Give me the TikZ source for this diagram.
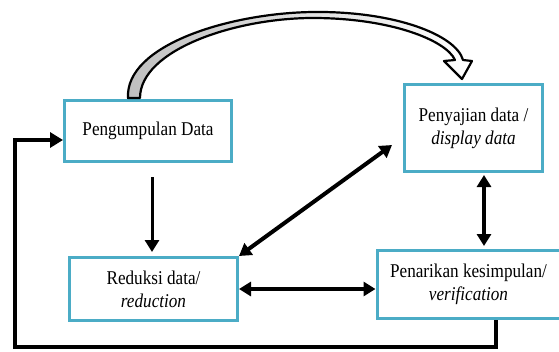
\documentclass[tikz,border=0pt]{standalone}
\usepackage{fontspec}
\setmainfont{Liberation Serif}
\newfontfamily\figfont[FakeStretch=0.88]{Liberation Serif}
\usepackage{xcolor}
\usetikzlibrary{arrows.meta,positioning,calc}
\definecolor{boxline}{RGB}{75,172,198}

\begin{document}
\begin{tikzpicture}[
  x=1pt,y=-1pt,
  font=\figfont\fontsize{19.5}{23}\selectfont,
  stage/.style ={draw=boxline,line width=3pt,fill=white,align=center,
                 inner sep=2pt},
  link/.style  ={line width=3.5pt,-{Triangle[length=12pt,width=14pt]}},
  both/.style  ={line width=4pt,{Triangle[length=12pt,width=14pt]}-{Triangle[length=12pt,width=14pt]}}]

\useasboundingbox (0,0) rectangle (559,351);

% ---------- stages ----------
\node[stage,minimum width=167pt,minimum height=61pt] (gather) at (148,131) {Pengumpulan Data};
\node[stage,minimum width=138pt,minimum height=87pt] (display) at (473.5,128)
  {Penyajian data /\\\textit{display data}};
\node[stage,minimum width=168pt,minimum height=63pt] (reduce) at (153.5,289)
  {Reduksi data/\\\textit{reduction}};
\node[stage,minimum width=183pt,minimum height=68pt] (verify) at (468.5,284.5)
  {Penarikan kesimpulan/\\\textit{verification}};

% ---------- curved block arrow ----------
\path[draw=black,line width=2.2pt,left color=gray!50,right color=white,line join=round]
  (128,98) .. controls (125,45) and (230,13) .. (313,12)
  .. controls (395,11) and (456,35) .. (463,60)
  -- (472,61) -- (462,79) -- (444,61) -- (455,60)
  .. controls (446,40) and (390,18) .. (313,18)
  .. controls (235,18) and (140,50) .. (140,98) -- cycle;

% ---------- connectors ----------
\draw[link,line width=3pt] ([xshift=4pt,yshift=-14pt]gather.south) -- ([xshift=-1.5pt,yshift=4pt]reduce.north);
\draw[both] (reduce.north east) -- ([shift={(-11pt,-17pt)}]display.west);
\draw[both,line width=4.5pt] (reduce.east) -- (reduce.east -| verify.west);
\draw[both] ([xshift=10.5pt,yshift=-2pt]display.south) -- ([xshift=10.5pt,yshift=3pt]display.south |- verify.north);

% ---------- feedback ----------
\coordinate (fb) at (15,347);
\draw[link,line width=4pt,-{Triangle[length=13pt,width=15pt]}]
  ([xshift=27.5pt]verify.south) |- (fb) |- ([yshift=-9pt]gather.west);

\end{tikzpicture}
\end{document}
